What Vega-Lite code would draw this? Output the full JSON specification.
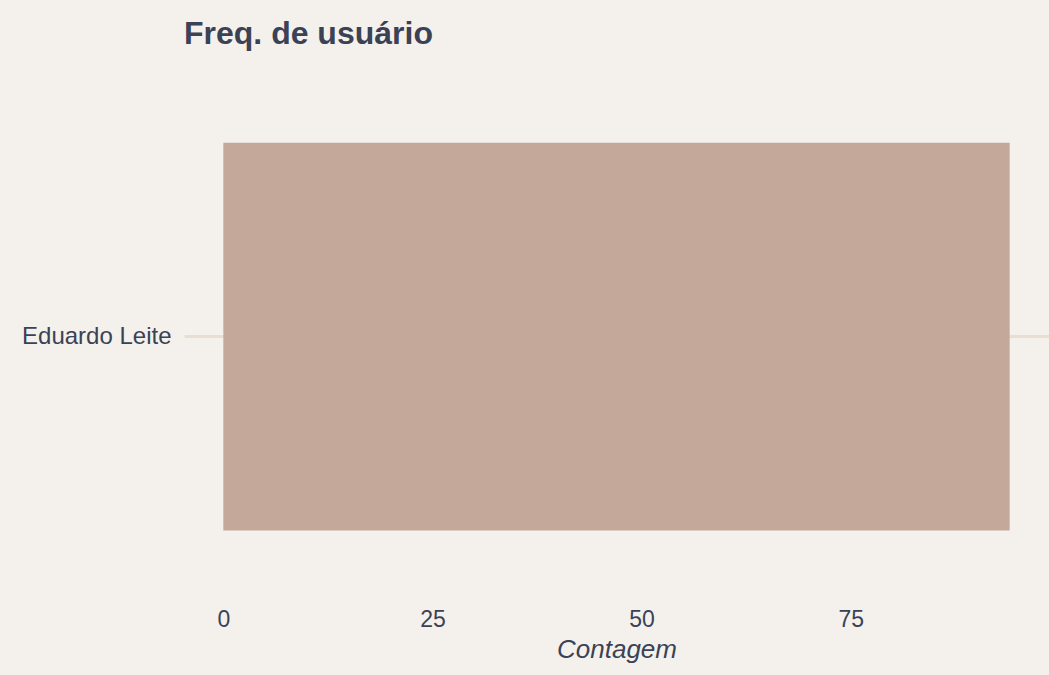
{
  "$schema": "https://vega.github.io/schema/vega-lite/v6.json",
  "autosize": {"type": "none"},
  "width": 865,
  "height": 517,
  "padding": {"left": 184, "top": 78, "right": 0, "bottom": 80},
  "background": "#F4F1EC",
  "config": {
    "view": {"stroke": null},
    "font": "Liberation Sans"
  },
  "title": {
    "text": "Freq. de usuário",
    "anchor": "start",
    "frame": "group",
    "fontSize": 32,
    "fontWeight": "bold",
    "color": "#3B4256",
    "font": "Liberation Sans",
    "baseline": "alphabetic",
    "offset": 2
  },
  "data": {"values": [{"usuario": "Eduardo Leite", "contagem": 94}]},
  "mark": {"type": "bar", "color": "#C4A89A"},
  "encoding": {
    "y": {
      "field": "usuario",
      "type": "nominal",
      "title": null,
      "scale": {"paddingInner": 0.1, "paddingOuter": 0.15},
      "axis": {
        "domain": false,
        "ticks": false,
        "grid": true,
        "gridColor": "#E8DFD2",
        "gridWidth": 2.8,
        "labelFontSize": 24,
        "labelColor": "#3B4256",
        "labelPadding": 13
      }
    },
    "x": {
      "field": "contagem",
      "type": "quantitative",
      "title": "Contagem",
      "scale": {"domain": [-4.7, 98.7], "nice": false, "zero": false},
      "axis": {
        "values": [0, 25, 50, 75],
        "domain": false,
        "ticks": false,
        "grid": false,
        "labelFontSize": 23,
        "labelColor": "#3B4256",
        "labelPadding": 13,
        "titleFontSize": 26,
        "titleFontStyle": "italic",
        "titleFontWeight": "normal",
        "titleColor": "#3B4256",
        "titlePadding": 5
      }
    }
  }
}
